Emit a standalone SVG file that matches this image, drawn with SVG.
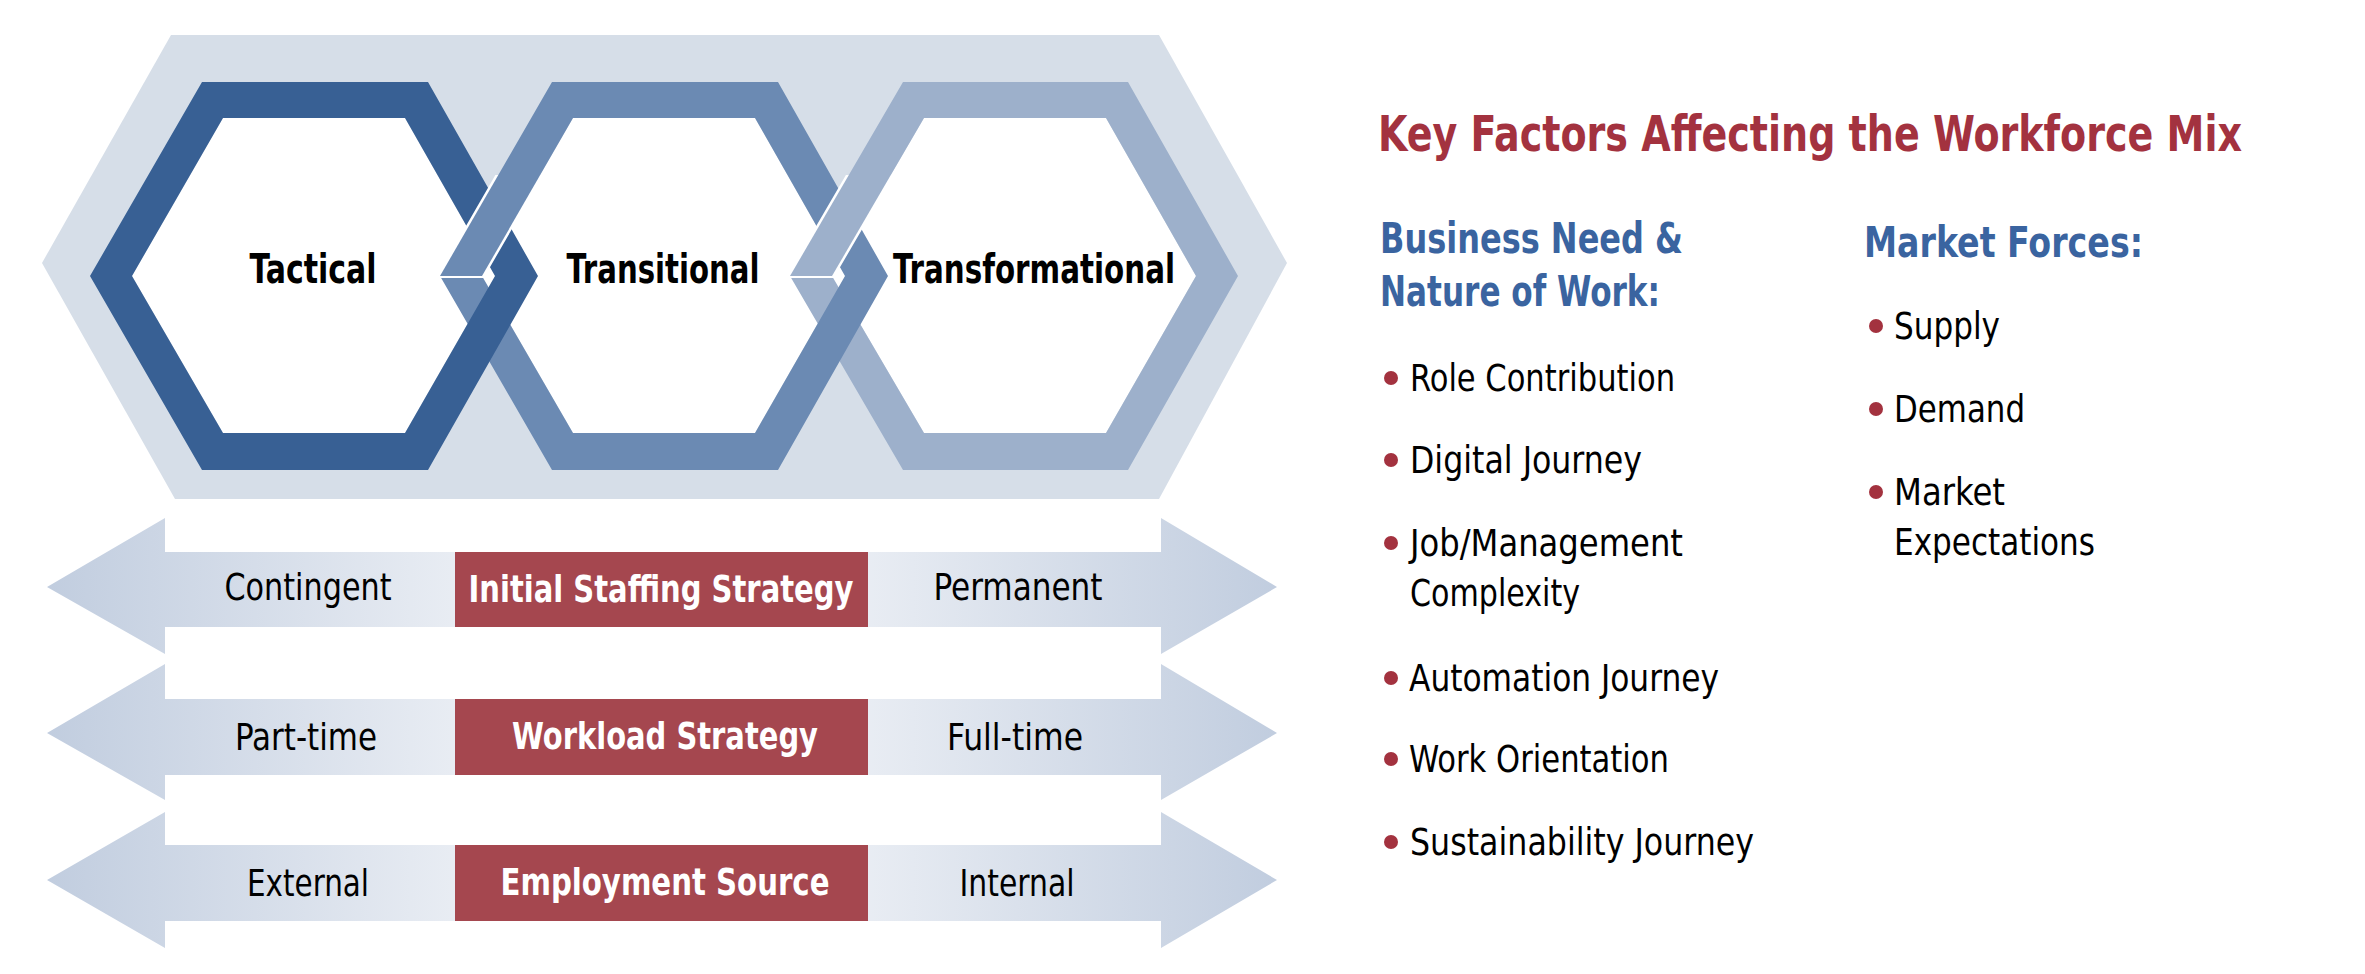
<svg xmlns="http://www.w3.org/2000/svg" width="2365" height="974" viewBox="0 0 2365 974">
<style>
text{font-family:"Liberation Sans Narrow","DejaVu Sans Condensed","Liberation Sans",sans-serif}
.hx{font-weight:bold;font-size:40px;fill:#000;text-anchor:middle}
.lb{font-size:38px;fill:#000;text-anchor:middle}
.bx{font-weight:bold;font-size:38px;fill:#fff;text-anchor:middle}
.t{font-weight:bold;font-size:50px;fill:#a3323f}
.h{font-weight:bold;font-size:42px;fill:#3a64a0}
.it{font-size:37px;fill:#000}
.dot{fill:#a3323f}
.box{fill:#a5474f}
.arr{fill:url(#g)}
.in{fill:#fff}
</style>
<defs>
<linearGradient id="g" x1="0" x2="1" y1="0" y2="0">
<stop offset="0" stop-color="#c1cddf"/><stop offset="0.38" stop-color="#eef1f6"/><stop offset="0.62" stop-color="#eef1f6"/><stop offset="1" stop-color="#c1cddf"/>
</linearGradient>
<clipPath id="c1"><rect x="415" y="175" width="150" height="103"/></clipPath>
<clipPath id="c2"><rect x="765" y="175" width="150" height="103"/></clipPath>
</defs>
<polygon points="42,263 171,35 1159,35 1287,263 1159,499 175,499" fill="#d6dee8"/>
<polygon class="in" points="223,118 132,276 223,433 405,433 495,276 405,118"/>
<polygon class="in" points="573,118 482,276 573,433 755,433 845,276 755,118"/>
<polygon class="in" points="924,118 832,276 924,433 1106,433 1196,276 1106,118"/>
<g id="ring3"><path fill-rule="evenodd" fill="#9db0cb" d="M903,82 L1128,82 L1238,276 L1128,470 L903,470 L790,276 Z M924,118 L832,276 L924,433 L1106,433 L1196,276 L1106,118 Z"/></g>
<g id="ring2"><path fill-rule="evenodd" fill="#6b8ab3" d="M552,82 L778,82 L888,276 L778,470 L552,470 L440,276 Z M573,118 L482,276 L573,433 L755,433 L845,276 L755,118 Z"/></g>
<g id="ring1"><path fill-rule="evenodd" fill="#386094" d="M202,82 L428,82 L538,276 L428,470 L202,470 L90,276 Z M223,118 L132,276 L223,433 L405,433 L495,276 L405,118 Z"/></g>
<g clip-path="url(#c1)"><polygon points="552,82 573,118 482,276 440,276" fill="#6b8ab3" stroke="#fff" stroke-width="5"/><polygon points="552,82 573,118 482,276 440,276" fill="#6b8ab3"/></g>
<g clip-path="url(#c2)"><polygon points="903,82 924,118 832,276 790,276" fill="#9db0cb" stroke="#fff" stroke-width="5"/><polygon points="903,82 924,118 832,276 790,276" fill="#9db0cb"/></g>
<text class="hx" x="313" y="283" textLength="127" lengthAdjust="spacingAndGlyphs">Tactical</text>
<text class="hx" x="663" y="283" textLength="193" lengthAdjust="spacingAndGlyphs">Transitional</text>
<text class="hx" x="1034" y="283" textLength="282" lengthAdjust="spacingAndGlyphs">Transformational</text>
<g id="connectors">
<polygon class="arr" points="47,587 165,518 165,552 1161,552 1161,518 1277,587 1161,654 1161,627 165,627 165,654"/>
<polygon class="arr" points="47,733 165,664 165,699 1161,699 1161,664 1277,733 1161,800 1161,775 165,775 165,800"/>
<polygon class="arr" points="47,880 165,812 165,845 1161,845 1161,812 1277,880 1161,948 1161,921 165,921 165,948"/>
</g>
<g id="staffing"><rect class="box" x="455" y="552" width="413" height="75"/>
<text class="bx" x="661" y="602" textLength="385" lengthAdjust="spacingAndGlyphs">Initial Staffing Strategy</text>
<text class="lb" x="308" y="600" textLength="167" lengthAdjust="spacingAndGlyphs">Contingent</text>
<text class="lb" x="1018" y="600" textLength="169" lengthAdjust="spacingAndGlyphs">Permanent</text></g>
<g id="workload"><rect class="box" x="455" y="699" width="413" height="76"/>
<text class="bx" x="665" y="749" textLength="306" lengthAdjust="spacingAndGlyphs">Workload Strategy</text>
<text class="lb" x="306" y="750" textLength="142" lengthAdjust="spacingAndGlyphs">Part-time</text>
<text class="lb" x="1015" y="750" textLength="136" lengthAdjust="spacingAndGlyphs">Full-time</text></g>
<g id="source"><rect class="box" x="455" y="845" width="413" height="76"/>
<text class="bx" x="665" y="895" textLength="329" lengthAdjust="spacingAndGlyphs">Employment Source</text>
<text class="lb" x="308" y="896" textLength="122" lengthAdjust="spacingAndGlyphs">External</text>
<text class="lb" x="1017" y="896" textLength="115" lengthAdjust="spacingAndGlyphs">Internal</text></g>
<g id="factors">
<text class="t" x="1378" y="151" textLength="864" lengthAdjust="spacingAndGlyphs">Key Factors Affecting the Workforce Mix</text>
<text class="h" x="1380" y="253" textLength="303" lengthAdjust="spacingAndGlyphs">Business Need &amp;</text>
<text class="h" x="1380" y="306" textLength="280" lengthAdjust="spacingAndGlyphs">Nature of Work:</text>
<text class="h" x="1864" y="257" textLength="279" lengthAdjust="spacingAndGlyphs">Market Forces:</text>
<circle class="dot" cx="1391" cy="378" r="7"/><text class="it" x="1410" y="391" textLength="265" lengthAdjust="spacingAndGlyphs">Role Contribution</text>
<circle class="dot" cx="1391" cy="460" r="7"/><text class="it" x="1410" y="473" textLength="232" lengthAdjust="spacingAndGlyphs">Digital Journey</text>
<circle class="dot" cx="1391" cy="543" r="7"/><text class="it" x="1410" y="556" textLength="273" lengthAdjust="spacingAndGlyphs">Job/Management</text>
<text class="it" x="1410" y="606" textLength="170" lengthAdjust="spacingAndGlyphs">Complexity</text>
<circle class="dot" cx="1391" cy="678" r="7"/><text class="it" x="1409" y="691" textLength="310" lengthAdjust="spacingAndGlyphs">Automation Journey</text>
<circle class="dot" cx="1391" cy="759" r="7"/><text class="it" x="1409" y="772" textLength="260" lengthAdjust="spacingAndGlyphs">Work Orientation</text>
<circle class="dot" cx="1391" cy="842" r="7"/><text class="it" x="1410" y="855" textLength="344" lengthAdjust="spacingAndGlyphs">Sustainability Journey</text>
<circle class="dot" cx="1876" cy="326" r="7"/><text class="it" x="1894" y="339" textLength="106" lengthAdjust="spacingAndGlyphs">Supply</text>
<circle class="dot" cx="1876" cy="409" r="7"/><text class="it" x="1894" y="422" textLength="131" lengthAdjust="spacingAndGlyphs">Demand</text>
<circle class="dot" cx="1876" cy="492" r="7"/><text class="it" x="1894" y="505" textLength="111" lengthAdjust="spacingAndGlyphs">Market</text>
<text class="it" x="1894" y="555" textLength="201" lengthAdjust="spacingAndGlyphs">Expectations</text>
</g>
</svg>
